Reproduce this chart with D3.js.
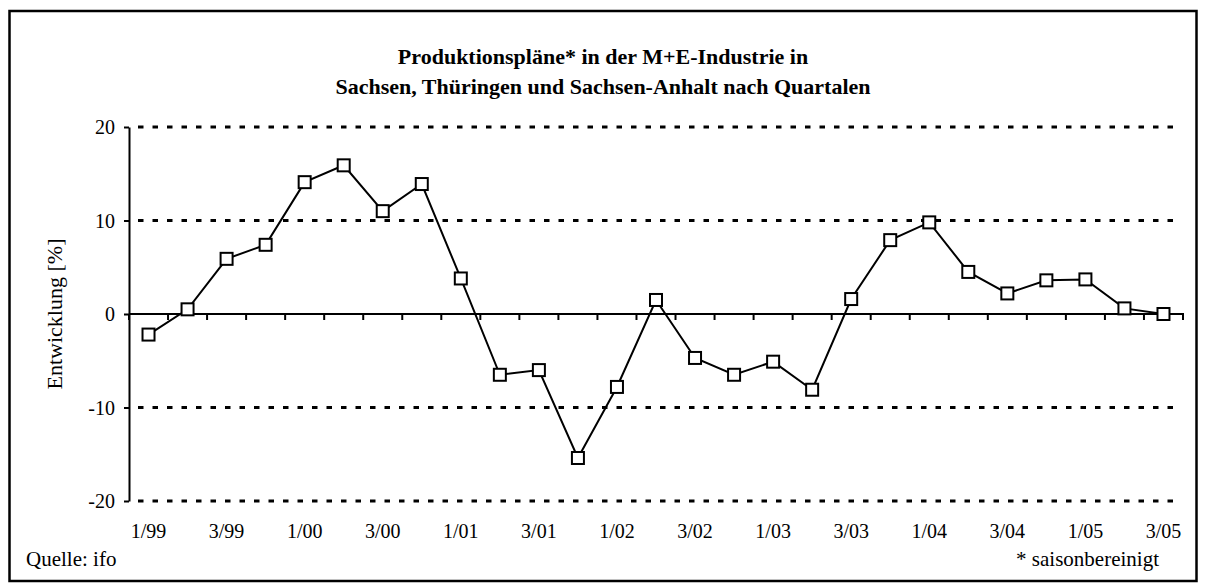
<!DOCTYPE html>
<html>
<head>
<meta charset="utf-8">
<script src="https://cdn.jsdelivr.net/npm/d3@7"></script>
<style>
  html, body { margin: 0; padding: 0; background: #fff; }
  svg { display: block; }
  text { font-family: "Liberation Serif", "Times New Roman", serif; fill: #000; }
</style>
</head>
<body>
<div id="chart"></div>
<script>
// quarterly values
const quarters = [
  "1/99", "2/99", "3/99", "4/99",
  "1/00", "2/00", "3/00", "4/00",
  "1/01", "2/01", "3/01", "4/01",
  "1/02", "2/02", "3/02", "4/02",
  "1/03", "2/03", "3/03", "4/03",
  "1/04", "2/04", "3/04", "4/04",
  "1/05", "2/05", "3/05"
]
const values = [
  -2.2, 0.5, 5.9, 7.4,
  14.1, 15.9, 11.0, 13.9,
  3.8, -6.5, -6.0, -15.4,
  -7.8, 1.5, -4.7, -6.5,
  -5.1, -8.1, 1.6, 7.9,
  9.8, 4.5, 2.2, 3.6,
  3.7, 0.6, 0.0
]
const tickLabels = ["1/99", "3/99", "1/00", "3/00", "1/01", "3/01", "1/02", "3/02", "1/03", "3/03", "1/04", "3/04", "1/05", "3/05"]
const yTicks = [-20, -10, 0, 10, 20]
const gridValues = [-20, -10, 10, 20]

const titleLines = ["Produktionspläne* in der M+E-Industrie in", "Sachsen, Thüringen und Sachsen-Anhalt nach Quartalen"]
const yLabel = "Entwicklung [%]"
const source = "Quelle: ifo"
const note = "* saisonbereinigt"

const width = 1206
const height = 585
const margin = ({ top: 127, right: 23, bottom: 84, left: 129 })

const data = quarters.map((q, i) => ({ q, v: values[i] }))

const x = d3.scaleBand().domain(quarters).range([margin.left, width - margin.right]).padding(0)
const y = d3.scaleLinear().domain([-20, 20]).range([height - margin.bottom, margin.top])
const bw = x.bandwidth()

const svg = d3.select('#chart').append('svg')
  .attr('width', width)
  .attr('height', height)
  .attr('viewBox', [0, 0, width, height])

// outer frame
svg.append('rect')
  .attr('x', 9.5).attr('y', 11)
  .attr('width', 1187).attr('height', 570)
  .attr('fill', 'none')
  .attr('stroke', '#000')
  .attr('stroke-width', 2.5)

// title
svg.append('text')
  .attr('text-anchor', 'middle')
  .style('font-size', '22px')
  .style('font-weight', 'bold')
  .selectAll('tspan')
  .data(titleLines)
  .join('tspan')
    .attr('x', 603)
    .attr('y', (d, i) => 64 + i * 30)
    .text(d => d)

// dashed gridlines
const xEnd = x.range()[1] - 3
svg.append('g')
  .selectAll('line')
  .data(gridValues)
  .join('line')
    .attr('x1', margin.left)
    .attr('x2', xEnd)
    .attr('y1', d => y(d))
    .attr('y2', d => y(d))
    .attr('stroke', '#000')
    .attr('stroke-width', 3)
    .attr('stroke-dasharray', '5.5,9')
    .attr('stroke-dashoffset', -9)

// y axis (plain hyphen for negatives, like the original)
const yAxis = svg.append('g')
  .attr('transform', `translate(${margin.left},0)`)
  .call(d3.axisLeft(y).tickValues(yTicks).tickSize(5).tickSizeOuter(0).tickPadding(9).tickFormat(d => String(d)))
yAxis.select('.domain').attr('stroke-width', 2)
yAxis.selectAll('.tick line').attr('stroke-width', 2)
yAxis.selectAll('.tick text')
  .style('font-size', '20px')
  .style('font-family', '"Liberation Serif", "Times New Roman", serif')
  .attr('dy', '0.34em')

// zero line with ticks at the quarter boundaries
const y0 = y(0)
svg.append('line')
  .attr('x1', margin.left).attr('x2', x.range()[1] + 1)
  .attr('y1', y0).attr('y2', y0)
  .attr('stroke', '#000').attr('stroke-width', 2)

const edges = quarters.map(q => x(q)).concat([x.range()[1]])
svg.append('g')
  .selectAll('line')
  .data(edges)
  .join('line')
    .attr('x1', d => d).attr('x2', d => d)
    .attr('y1', y0).attr('y2', y0 + 6)
    .attr('stroke', '#000').attr('stroke-width', 2)

// x labels, every second quarter
svg.append('g')
  .selectAll('text')
  .data(tickLabels)
  .join('text')
    .attr('x', d => x(d) + bw / 2)
    .attr('y', 538)
    .attr('text-anchor', 'middle')
    .style('font-size', '20px')
    .text(d => d)

// y axis title
svg.append('text')
  .attr('transform', `translate(62,${(y(20) + y(-20)) / 2}) rotate(-90)`)
  .attr('text-anchor', 'middle')
  .style('font-size', '22px')
  .text(yLabel)

// line + square markers
const line = d3.line()
  .x(d => x(d.q) + bw / 2)
  .y(d => y(d.v))

svg.append('path')
  .datum(data)
  .attr('d', line)
  .attr('fill', 'none')
  .attr('stroke', '#000')
  .attr('stroke-width', 2)

const s = 12
svg.append('g')
  .selectAll('rect')
  .data(data)
  .join('rect')
    .attr('x', d => x(d.q) + bw / 2 - s / 2)
    .attr('y', d => y(d.v) - s / 2)
    .attr('width', s)
    .attr('height', s)
    .attr('fill', '#fff')
    .attr('stroke', '#000')
    .attr('stroke-width', 2)

// footer
svg.append('text')
  .attr('x', 26)
  .attr('y', 566)
  .style('font-size', '21px')
  .text(source)

svg.append('text')
  .attr('x', 1159)
  .attr('y', 566)
  .attr('text-anchor', 'end')
  .style('font-size', '21px')
  .text(note)
</script>
</body>
</html>
